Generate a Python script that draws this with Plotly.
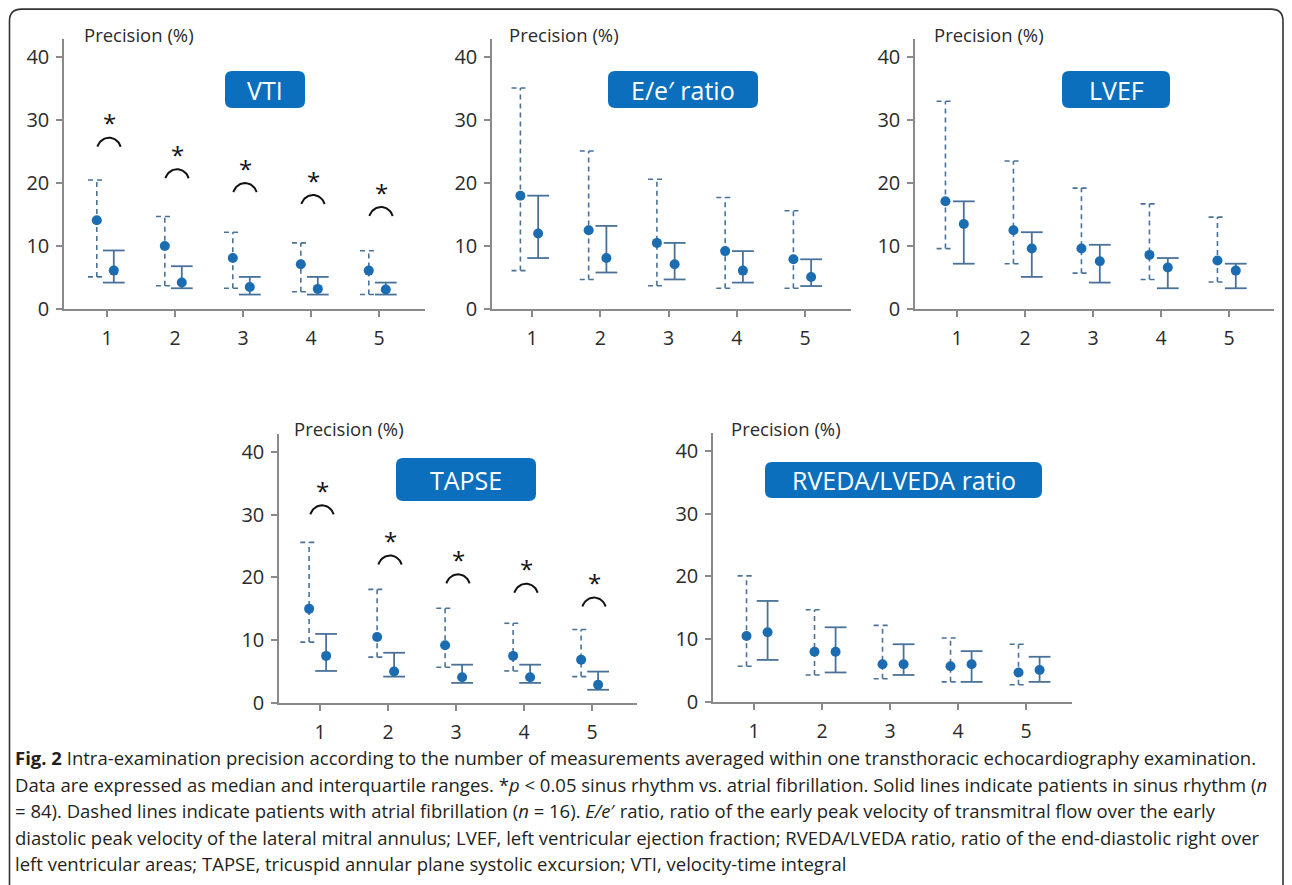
import numpy as np
import plotly.graph_objects as go

# The page body has an 8px margin; the photographed picture shows a slightly taller
# page region squeezed to 885px, so vertical reference positions are scaled back.
PAGE_OFF = 8
SQUEEZE = 0.9855
W = 1292 - 2 * PAGE_OFF
H = int(round(885 / SQUEEZE)) - 2 * PAGE_OFF

# ---------------- data ----------------
n_meas = [1, 2, 3, 4, 5]
x_tick_labels = ["1", "2", "3", "4", "5"]
y_ticks = [0, 10, 20, 30, 40]
panel_titles = ["VTI", "E/e\u2032 ratio", "LVEF", "TAPSE", "RVEDA/LVEDA ratio"]

# atrial fibrillation (dashed): median, Q1, Q3
vti_af_med = [14.1, 10.0, 8.1, 7.1, 6.1]
vti_af_q1 = [5.1, 3.7, 3.3, 2.75, 2.3]
vti_af_q3 = [20.5, 14.7, 12.2, 10.5, 9.25]
# sinus rhythm (solid)
vti_sr_med = [6.1, 4.2, 3.5, 3.2, 3.1]
vti_sr_q1 = [4.2, 3.3, 2.3, 2.3, 2.3]
vti_sr_q3 = [9.3, 6.8, 5.1, 5.1, 4.2]
vti_sig = [27.2, 22.2, 20.0, 18.1, 16.2]

ee_af_med = [18.0, 12.5, 10.5, 9.2, 7.9]
ee_af_q1 = [6.1, 4.7, 3.7, 3.3, 3.3]
ee_af_q3 = [35.1, 25.1, 20.6, 17.7, 15.6]
ee_sr_med = [12.0, 8.1, 7.1, 6.1, 5.1]
ee_sr_q1 = [8.1, 5.8, 4.7, 4.2, 3.65]
ee_sr_q3 = [18.0, 13.2, 10.5, 9.2, 7.9]
ee_sig = []

lvef_af_med = [17.1, 12.5, 9.6, 8.6, 7.7]
lvef_af_q1 = [9.6, 7.2, 5.7, 4.7, 4.3]
lvef_af_q3 = [33.0, 23.5, 19.2, 16.7, 14.6]
lvef_sr_med = [13.5, 9.6, 7.6, 6.6, 6.1]
lvef_sr_q1 = [7.2, 5.1, 4.2, 3.3, 3.3]
lvef_sr_q3 = [17.1, 12.2, 10.2, 8.1, 7.2]
lvef_sig = []

tapse_af_med = [15.0, 10.5, 9.2, 7.5, 6.9]
tapse_af_q1 = [9.7, 7.3, 5.7, 5.1, 4.2]
tapse_af_q3 = [25.6, 18.1, 15.1, 12.7, 11.7]
tapse_sr_med = [7.5, 5.0, 4.1, 4.1, 2.9]
tapse_sr_q1 = [5.1, 4.2, 3.2, 3.2, 2.1]
tapse_sr_q3 = [11.0, 8.0, 6.1, 6.1, 5.0]
tapse_sig = [31.5, 23.5, 20.5, 19.0, 16.8]

rv_af_med = [10.5, 8.0, 6.0, 5.7, 4.7]
rv_af_q1 = [5.7, 4.3, 3.7, 3.2, 2.75]
rv_af_q3 = [20.1, 14.7, 12.2, 10.2, 9.2]
rv_sr_med = [11.1, 8.0, 6.0, 6.0, 5.1]
rv_sr_q1 = [6.7, 4.7, 4.3, 3.2, 3.2]
rv_sr_q3 = [16.1, 11.9, 9.2, 8.1, 7.2]
rv_sig = []

caption_lines = [
    "<b>Fig. 2</b> Intra-examination precision according to the number of measurements averaged within one transthoracic echocardiography examination.",
    "Data are expressed as median and interquartile ranges. *<i>p</i> &lt; 0.05 sinus rhythm vs. atrial fibrillation. Solid lines indicate patients in sinus rhythm (<i>n</i>",
    "= 84). Dashed lines indicate patients with atrial fibrillation (<i>n</i> = 16). <i>E/e</i>\u2032 ratio, ratio of the early peak velocity of transmitral flow over the early",
    "diastolic peak velocity of the lateral mitral annulus; LVEF, left ventricular ejection fraction; RVEDA/LVEDA ratio, ratio of the end-diastolic right over",
    "left ventricular areas; TAPSE, tricuspid annular plane systolic excursion; VTI, velocity-time integral",
]

panels = [
    dict(af=(vti_af_med, vti_af_q1, vti_af_q3), sr=(vti_sr_med, vti_sr_q1, vti_sr_q3), sig=vti_sig),
    dict(af=(ee_af_med, ee_af_q1, ee_af_q3), sr=(ee_sr_med, ee_sr_q1, ee_sr_q3), sig=ee_sig),
    dict(af=(lvef_af_med, lvef_af_q1, lvef_af_q3), sr=(lvef_sr_med, lvef_sr_q1, lvef_sr_q3), sig=lvef_sig),
    dict(af=(tapse_af_med, tapse_af_q1, tapse_af_q3), sr=(tapse_sr_med, tapse_sr_q1, tapse_sr_q3), sig=tapse_sig),
    dict(af=(rv_af_med, rv_af_q1, rv_af_q3), sr=(rv_sr_med, rv_sr_q1, rv_sr_q3), sig=rv_sig),
]

# ---------------- layout geometry (reference picture pixels) ----------------
geom = [
    dict(left=64, right=425, t1=107, t5=379, y0=309, y40=57, top=39, box=(225, 305, 71, 108), lab=(82, 34), off=(-0.15, 0.10)),
    dict(left=492, right=851, t1=532, t5=805, y0=309, y40=57, top=39, box=(608, 758, 71, 108), lab=(507, 34), off=(-0.17, 0.09)),
    dict(left=915, right=1274, t1=957, t5=1229, y0=309, y40=57, top=39, box=(1062, 1170, 71, 108), lab=(932, 34), off=(-0.17, 0.10)),
    dict(left=279, right=637, t1=320, t5=592, y0=703, y40=452, top=434, box=(396, 536, 458, 501), lab=(292, 428), off=(-0.16, 0.09)),
    dict(left=713, right=1072, t1=754, t5=1026, y0=702, y40=451, top=433, box=(765, 1042, 462, 498), lab=(729, 428), off=(-0.11, 0.20)),
]

LINE_C = "#4a7299"
DOT_C = "#1c6cb1"
AXIS_C = "#8a8a8a"
TXT_C = "#2b2b2b"
BOX_C = "#0b6fbd"
FONT = "Open Sans"


def px(x):
    return (x - PAGE_OFF) / W


def py(y):
    return 1 - (y / SQUEEZE - PAGE_OFF) / H


fig = go.Figure()
shapes = []
annotations = []


def bar_xy(xs, lo, hi, cw):
    X, Y = [], []
    for x, a, b in zip(xs, lo, hi):
        X += [x, x, None, x - cw, x + cw, None, x - cw, x + cw, None]
        Y += [a, b, None, b, b, None, a, a, None]
    return X, Y


for i, (p, g) in enumerate(zip(panels, geom)):
    k = "" if i == 0 else str(i + 1)
    sp = (g["t5"] - g["t1"]) / 4.0
    xr = [1 - (g["t1"] - g["left"]) / sp, 5 + (g["right"] - g["t5"]) / sp]
    yr = [0, 40 * (g["y0"] - g["top"]) / (g["y0"] - g["y40"])]
    fig.layout["xaxis" + k] = dict(
        domain=[px(g["left"]), px(g["right"])], range=xr, anchor="y" + k,
        tickvals=n_meas, ticktext=x_tick_labels, ticks="outside", ticklen=6,
        tickwidth=1.5, tickcolor=AXIS_C, showline=True, linecolor=AXIS_C, linewidth=1.5,
        showgrid=False, zeroline=False, fixedrange=True, ticklabelstandoff=5,
        tickfont=dict(family=FONT, size=19.5, color=TXT_C),
    )
    fig.layout["yaxis" + k] = dict(
        domain=[py(g["y0"]), py(g["top"])], range=yr, anchor="x" + k,
        tickvals=y_ticks, ticks="outside", ticklen=6, tickwidth=1.5, tickcolor=AXIS_C,
        showline=True, linecolor=AXIS_C, linewidth=1.5, showgrid=False, zeroline=False,
        fixedrange=True, ticklabelstandoff=3, tickfont=dict(family=FONT, size=20, color=TXT_C),
    )
    xa, ya = "x" + k, "y" + k
    af_off, sr_off = g["off"]
    af_x = [n + af_off for n in n_meas]
    sr_x = [n + sr_off for n in n_meas]
    med, q1, q3 = p["af"]
    X, Y = bar_xy(af_x, q1, q3, 0.13)
    fig.add_trace(go.Scatter(x=X, y=Y, mode="lines", xaxis=xa, yaxis=ya,
                             line=dict(color=LINE_C, width=1.6, dash="5px,4px"),
                             hoverinfo="skip", showlegend=False))
    fig.add_trace(go.Scatter(x=af_x, y=med, mode="markers", xaxis=xa, yaxis=ya,
                             marker=dict(color=DOT_C, size=10), showlegend=False,
                             name="Atrial fibrillation"))
    med, q1, q3 = p["sr"]
    X, Y = bar_xy(sr_x, q1, q3, 0.16)
    fig.add_trace(go.Scatter(x=X, y=Y, mode="lines", xaxis=xa, yaxis=ya,
                             line=dict(color=LINE_C, width=1.8),
                             hoverinfo="skip", showlegend=False))
    fig.add_trace(go.Scatter(x=sr_x, y=med, mode="markers", xaxis=xa, yaxis=ya,
                             marker=dict(color=DOT_C, size=10), showlegend=False,
                             name="Sinus rhythm"))
    # significance arcs
    if p["sig"]:
        upp = (g["y0"] - g["y40"]) / 40.0  # px per unit
        t = np.linspace(0.1 * np.pi, 0.9 * np.pi, 25)
        a_w = 0.18
        b_h = 13.0 / upp
        AX, AY = [], []
        for n, s in zip(n_meas, p["sig"]):
            cx = n + 0.03
            AX += list(cx + a_w * np.cos(t)) + [None]
            AY += list(s - b_h + b_h * np.sin(t)) + [None]
            annotations.append(dict(x=cx, y=s + 15.0 / upp, xref=xa, yref=ya, text="*",
                                    showarrow=False, yanchor="middle",
                                    font=dict(family=FONT, size=24, color="#111")))
        fig.add_trace(go.Scatter(x=AX, y=AY, mode="lines", xaxis=xa, yaxis=ya,
                                 line=dict(color="#111", width=2),
                                 hoverinfo="skip", showlegend=False))
    # title box
    x0, x1, y0, y1 = g["box"]
    r = 7
    path = (f"M {px(x0 + r)} {py(y0)} L {px(x1 - r)} {py(y0)} Q {px(x1)} {py(y0)} {px(x1)} {py(y0 + r)} "
            f"L {px(x1)} {py(y1 - r)} Q {px(x1)} {py(y1)} {px(x1 - r)} {py(y1)} "
            f"L {px(x0 + r)} {py(y1)} Q {px(x0)} {py(y1)} {px(x0)} {py(y1 - r)} "
            f"L {px(x0)} {py(y0 + r)} Q {px(x0)} {py(y0)} {px(x0 + r)} {py(y0)} Z")
    shapes.append(dict(type="path", xref="paper", yref="paper", path=path,
                       fillcolor=BOX_C, line=dict(width=0), layer="above"))
    annotations.append(dict(x=px((x0 + x1) / 2), y=py((y0 + y1) / 2), xref="paper", yref="paper",
                            text=panel_titles[i], showarrow=False, xanchor="center", yanchor="middle",
                            font=dict(family=FONT, size=25, color="white")))
    lx, ly = g["lab"]
    annotations.append(dict(x=px(lx), y=py(ly), xref="paper", yref="paper", text="Precision (%)",
                            showarrow=False, xanchor="left", yanchor="middle",
                            font=dict(family=FONT, size=18.5, color=TXT_C)))

# frame with rounded top corners
fl, fr, ft, fb, rr = 9.5, 1283, 9, 920, 12
frame = (f"M {px(fl)} {py(fb)} L {px(fl)} {py(ft + rr)} Q {px(fl)} {py(ft)} {px(fl + rr)} {py(ft)} "
         f"L {px(fr - rr)} {py(ft)} Q {px(fr)} {py(ft)} {px(fr)} {py(ft + rr)} L {px(fr)} {py(fb)}")
shapes.append(dict(type="path", xref="paper", yref="paper", path=frame,
                   line=dict(color="#333", width=1.6)))

cap_y = [758, 785, 811, 838, 864]
for line, yy in zip(caption_lines, cap_y):
    annotations.append(dict(x=px(13), y=py(yy), xref="paper", yref="paper", text=line,
                            showarrow=False, xanchor="left", yanchor="middle",
                            font=dict(family=FONT, size=18.5, color="#231f20")))

fig.update_layout(width=W, height=H, margin=dict(l=0, r=0, t=0, b=0),
                  paper_bgcolor="white", plot_bgcolor="white",
                  shapes=shapes, annotations=annotations, showlegend=False)

fig.write_html("out.html")
